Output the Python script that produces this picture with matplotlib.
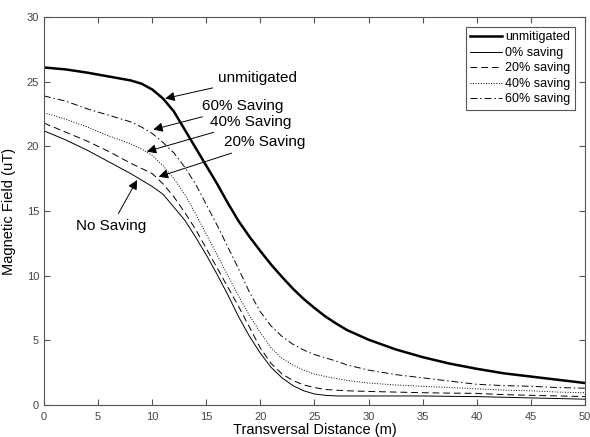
import matplotlib
matplotlib.use('Agg')
import matplotlib.pyplot as plt

plt.rcParams['font.family'] = ['Liberation Sans', 'DejaVu Sans']

# Transversal distance (m)
distance = [0, 2, 4, 6, 8, 9, 10, 11, 12, 13, 14, 15, 16, 17, 18, 19, 20,
            21, 22, 23, 24, 25, 26, 27, 28, 30, 32.5, 35, 37.5, 40, 42.5,
            45, 47.5, 50]

# Magnetic field (uT) for each case
unmitigated = [26.1, 25.95, 25.7, 25.4, 25.1, 24.85, 24.4, 23.7, 22.7, 21.3,
               19.9, 18.5, 17.1, 15.6, 14.2, 13.0, 11.9, 10.85, 9.9, 9.0,
               8.2, 7.5, 6.85, 6.3, 5.8, 5.05, 4.3, 3.7, 3.2, 2.8, 2.45, 2.2,
               1.95, 1.7]
saving_0 = [21.2, 20.5, 19.7, 18.8, 17.9, 17.4, 16.9, 16.3, 15.3, 14.3,
            13.0, 11.6, 10.1, 8.5, 6.8, 5.3, 4.0, 2.9, 2.1, 1.5, 1.1, 0.85,
            0.75, 0.7, 0.7, 0.7, 0.7, 0.7, 0.67, 0.65, 0.6, 0.55, 0.5, 0.45]
saving_20 = [21.8, 21.1, 20.4, 19.6, 18.7, 18.3, 17.9, 17.1, 16.1, 14.9,
             13.6, 12.1, 10.6, 9.1, 7.6, 6.0, 4.4, 3.2, 2.4, 1.9, 1.55,
             1.35, 1.2, 1.15, 1.1, 1.05, 1.0, 0.95, 0.92, 0.9, 0.8, 0.75,
             0.7, 0.65]
saving_40 = [22.6, 22.1, 21.5, 20.8, 20.2, 19.8, 19.3, 18.5, 17.5, 16.3,
             14.8, 13.2, 11.6, 10.0, 8.4, 6.9, 5.6, 4.4, 3.6, 3.1, 2.7, 2.4,
             2.2, 2.05, 1.9, 1.7, 1.55, 1.45, 1.35, 1.25, 1.15, 1.1, 1.0,
             0.95]
saving_60 = [23.9, 23.5, 22.9, 22.4, 21.9, 21.5, 21.0, 20.3, 19.5, 18.4,
             17.1, 15.5, 13.9, 12.2, 10.5, 8.7, 7.2, 6.1, 5.3, 4.7, 4.25,
             3.9, 3.65, 3.4, 3.1, 2.7, 2.35, 2.1, 1.85, 1.6, 1.5, 1.45,
             1.35, 1.3]

x_ticks = [0, 5, 10, 15, 20, 25, 30, 35, 40, 45, 50]
y_ticks = [0, 5, 10, 15, 20, 25, 30]

# Annotation text, text position, arrow tip
notes = [
    ('unmitigated', (16.1, 25.3), (11.2, 23.7)),
    ('60% Saving', (14.6, 23.1), (10.1, 21.3)),
    ('40% Saving', (15.3, 21.9), (9.5, 19.6)),
    ('20% Saving', (16.6, 20.3), (10.6, 17.65)),
    ('No Saving', (3.0, 14.4), (8.6, 17.4)),
]

GRAY = '#555555'

fig = plt.figure(figsize=(5.9, 4.37), dpi=100)
ax = fig.add_axes([0.0746, 0.0732, 0.9169, 0.8878])

ax.plot(distance, unmitigated, color='black', linewidth=1.8, label='unmitigated')
ax.plot(distance, saving_0, color='black', linewidth=0.7, label='0% saving')
ax.plot(distance, saving_20, color='black', linewidth=0.7,
        dashes=(7, 4), label='20% saving')
ax.plot(distance, saving_40, color='black', linewidth=0.7,
        linestyle=':', label='40% saving')
ax.plot(distance, saving_60, color='black', linewidth=0.7,
        dashes=(7, 3, 1.5, 3), label='60% saving')

for text, xytext, xy in notes:
    va = 'top' if text == 'No Saving' else 'center'
    ax.annotate(text, xy=xy, xytext=xytext, fontsize=11, ha='left', va=va,
                arrowprops=dict(arrowstyle='-|>', color='black', lw=0.7,
                                mutation_scale=14, shrinkA=2, shrinkB=0))

ax.set_xlim(0, 50)
ax.set_ylim(0, 30)
ax.set_xticks(x_ticks)
ax.set_yticks(y_ticks)
ax.tick_params(direction='in', length=4, width=0.8, colors=GRAY,
               labelsize=8, top=True, right=True, labelcolor='#444444')
ax.tick_params(axis='x', pad=5)
for spine in ax.spines.values():
    spine.set_edgecolor(GRAY)
    spine.set_linewidth(0.8)

ax.set_xlabel('Transversal Distance (m)', fontsize=10.5, labelpad=1)
ax.set_ylabel('Magnetic Field (uT)', fontsize=10.5, labelpad=8)

leg = ax.legend(loc='upper right', fontsize=9, frameon=True, fancybox=False,
                edgecolor=GRAY, framealpha=1, handlelength=2.5,
                handletextpad=0.3, borderpad=0.35, labelspacing=0.28,
                borderaxespad=0.8)
leg.get_frame().set_linewidth(0.8)

fig.savefig('out.png', dpi=100)
